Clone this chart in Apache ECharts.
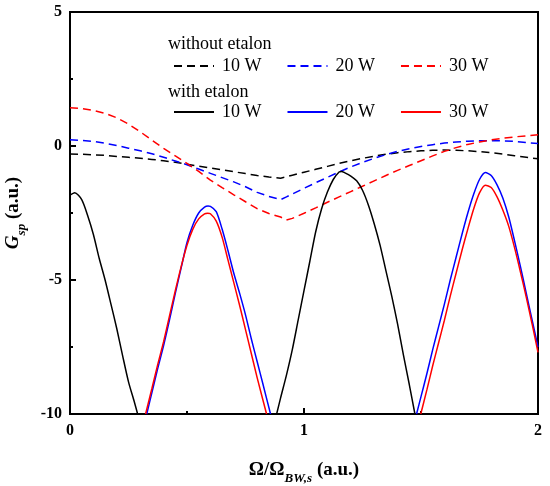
<!DOCTYPE html>
<html>
<head>
<meta charset="utf-8">
<script src="https://cdn.jsdelivr.net/npm/echarts@6/dist/echarts.min.js"></script>
<style>
  html, body { margin: 0; padding: 0; background: #fff; }
  #chart { width: 550px; height: 486px; }
</style>
</head>
<body>
<div id="chart"></div>
<script>
// dashed curves (without etalon), shared x grid
const xDash = [0, 0.05, 0.1, 0.15, 0.2, 0.25, 0.3, 0.35, 0.4, 0.45, 0.5, 0.55, 0.6, 0.65, 0.7, 0.75, 0.8, 0.85, 0.9, 0.925,
  0.95, 1.0, 1.05, 1.1, 1.15, 1.2, 1.25, 1.3, 1.35, 1.4, 1.45, 1.5, 1.55, 1.6, 1.65, 1.7, 1.75, 1.8, 1.85, 1.9, 1.95, 2.0];
const without10 = [-0.30, -0.31, -0.33, -0.35, -0.39, -0.42, -0.46, -0.50, -0.55, -0.61, -0.68, -0.75, -0.82, -0.89, -0.96, -1.03, -1.10, -1.16, -1.20, -1.15,
  -1.09, -0.98, -0.87, -0.76, -0.65, -0.55, -0.46, -0.38, -0.31, -0.25, -0.21, -0.18, -0.16, -0.15, -0.16, -0.18, -0.21, -0.25, -0.30, -0.36, -0.42, -0.48];
const without20 = [0.23, 0.21, 0.17, 0.10, 0.02, -0.08, -0.18, -0.29, -0.42, -0.56, -0.70, -0.86, -1.02, -1.18, -1.34, -1.52, -1.73, -1.88, -2.00, -1.90,
  -1.79, -1.58, -1.37, -1.17, -0.97, -0.78, -0.61, -0.46, -0.32, -0.20, -0.10, -0.02, 0.05, 0.11, 0.15, 0.18, 0.20, 0.20, 0.19, 0.17, 0.13, 0.09];
const without30 = [1.43, 1.40, 1.33, 1.22, 1.05, 0.82, 0.53, 0.22, -0.09, -0.37, -0.65, -0.95, -1.27, -1.55, -1.82, -2.08, -2.34, -2.52, -2.65, -2.76,
  -2.70, -2.51, -2.31, -2.10, -1.90, -1.70, -1.50, -1.30, -1.10, -0.91, -0.73, -0.55, -0.37, -0.20, -0.06, 0.06, 0.15, 0.23, 0.29, 0.34, 0.38, 0.42];

// solid curves (with etalon), null = gap below the axis
const with10X = [0, 0.02, 0.05, 0.075, 0.1, 0.125, 0.15, 0.175, 0.2, 0.225, 0.25, 0.275, 0.289, null,
  0.883, 0.9, 0.925, 0.95, 0.975, 1.0, 1.025, 1.05, 1.075, 1.1, 1.125, 1.15, 1.16, 1.175, 1.2, 1.225, 1.25, 1.275,
  1.3, 1.325, 1.35, 1.375, 1.4, 1.425, 1.45, 1.474];
const with10Y = [-1.83, -1.74, -2.0, -2.58, -3.3, -4.2, -5.0, -5.9, -6.82, -7.83, -8.8, -9.55, -10, null,
  -10, -9.4, -8.55, -7.6, -6.5, -5.4, -4.3, -3.2, -2.35, -1.72, -1.25, -0.97, -0.95, -1.0, -1.12, -1.3, -1.65, -2.2,
  -2.9, -3.7, -4.65, -5.6, -6.65, -7.8, -8.9, -10];
const with20X = [0.328, 0.35, 0.375, 0.4, 0.425, 0.45, 0.475, 0.5, 0.525, 0.55, 0.575, 0.59, 0.6, 0.625, 0.65, 0.675,
  0.7, 0.725, 0.75, 0.775, 0.8, 0.825, 0.857, null,
  1.481, 1.5, 1.525, 1.55, 1.575, 1.6, 1.625, 1.65, 1.675, 1.7, 1.725, 1.75, 1.775, 1.8, 1.825, 1.85, 1.875,
  1.9, 1.925, 1.95, 1.975, 2.0];
const with20Y = [-10, -9.2, -8.3, -7.45, -6.5, -5.5, -4.55, -3.6, -2.95, -2.5, -2.28, -2.24, -2.25, -2.45, -3.1, -3.9,
  -4.75, -5.5, -6.3, -7.2, -8.05, -8.9, -10, null,
  -10, -9.35, -8.5, -7.6, -6.75, -5.9, -5.0, -4.15, -3.3, -2.5, -1.8, -1.25, -0.99, -1.1, -1.45, -1.95, -2.65,
  -3.55, -4.5, -5.5, -6.5, -7.5];
const with30X = [0.323, 0.35, 0.375, 0.4, 0.425, 0.45, 0.475, 0.5, 0.525, 0.55, 0.575, 0.588, 0.6, 0.625, 0.65, 0.675,
  0.7, 0.725, 0.75, 0.775, 0.8, 0.84, null,
  1.499, 1.525, 1.55, 1.575, 1.6, 1.625, 1.65, 1.675, 1.7, 1.725, 1.75, 1.775, 1.8, 1.825, 1.85, 1.875,
  1.9, 1.925, 1.95, 1.975, 2.0];
const with30Y = [-10, -9.05, -8.15, -7.3, -6.35, -5.4, -4.5, -3.7, -3.1, -2.72, -2.53, -2.51, -2.53, -2.8, -3.4, -4.25,
  -5.1, -5.95, -6.85, -7.75, -8.65, -10, null,
  -10, -9.1, -8.2, -7.35, -6.5, -5.6, -4.75, -3.9, -3.1, -2.35, -1.75, -1.46, -1.55, -1.9, -2.4, -3.0,
  -3.8, -4.7, -5.65, -6.65, -7.7];

const powerLabels = ['10 W', '20 W', '30 W'];
const xTicks = [0, 1, 2];
const yTicks = [-10, -5, 0, 5];

const serif = 'Liberation Serif';
const pairs = (xs, ys) => xs.map((x, i) => (x === null ? ['-', '-'] : [x, ys[i]]));

const dashNames = ['d10', 'd20', 'd30'];
const solidNames = ['s10', 's20', 's30'];
const colors = ['#000000', '#0000ff', '#ff0000'];
const labelOf = {};
dashNames.forEach((n, i) => { labelOf[n] = powerLabels[i]; });
solidNames.forEach((n, i) => { labelOf[n] = powerLabels[i]; });

const dashData = [without10, without20, without30].map(ys => pairs(xDash, ys));
const solidData = [pairs(with10X, with10Y), pairs(with20X, with20Y), pairs(with30X, with30Y)];

const series = [];
dashData.forEach((d, i) => {
  series.push({
    name: dashNames[i], type: 'line', data: d, symbol: 'none', showSymbol: false,
    lineStyle: { color: colors[i], width: 1.5, type: [8, 5] }, itemStyle: { color: colors[i] },
    clip: true, animation: false
  });
});
solidData.forEach((d, i) => {
  series.push({
    name: solidNames[i], type: 'line', data: d, symbol: 'none', showSymbol: false, smooth: 0.25,
    lineStyle: { color: colors[i], width: 1.5, type: 'solid' }, itemStyle: { color: colors[i] },
    clip: true, animation: false
  });
});

const legendCommon = {
  orient: 'horizontal', left: 168, itemWidth: 40, itemHeight: 14, itemGap: 25,
  selectedMode: false,
  itemStyle: { opacity: 0 },
  textStyle: { fontFamily: serif, fontSize: 18, color: '#000', padding: [0, 0, 0, 3] },
  formatter: n => labelOf[n]
};

const titleRich = {
  g: { fontFamily: serif, fontWeight: 'bold', fontStyle: 'italic', fontSize: 19, fill: '#000', lineHeight: 22, verticalAlign: 'top' },
  a: { fontFamily: serif, fontWeight: 'bold', fontSize: 19, fill: '#000', lineHeight: 22, verticalAlign: 'top' },
  sub: { fontFamily: serif, fontWeight: 'bold', fontStyle: 'italic', fontSize: 13, fill: '#000', lineHeight: 36 }
};

const chart = echarts.init(document.getElementById('chart'));
chart.setOption({
  animation: false,
  backgroundColor: '#fff',
  grid: {
    left: 70, right: 12, top: 12, bottom: 72, outerBoundsMode: 'none',
    show: true, borderColor: '#000', borderWidth: 2
  },
  legend: [
    Object.assign({}, legendCommon, { top: 52, data: dashNames }),
    Object.assign({}, legendCommon, { top: 98, data: solidNames })
  ],
  graphic: [
    { type: 'text', left: 168, top: 35, style: { text: 'without etalon', font: '18px "Liberation Serif"', fill: '#000' } },
    { type: 'text', left: 168, top: 83, style: { text: 'with etalon', font: '18px "Liberation Serif"', fill: '#000' } },
    {
      type: 'text', x: 22, y: 213, rotation: Math.PI / 2,
      style: { text: '{g|G}{sub|sp}{a| (a.u.)}', rich: titleRich, align: 'center', verticalAlign: 'middle' }
    }
  ],
  xAxis: {
    type: 'value', min: xTicks[0], max: xTicks[xTicks.length - 1], interval: xTicks[1] - xTicks[0],
    axisLine: { onZero: false, lineStyle: { color: '#000', width: 2 } },
    axisTick: { inside: true, length: 6, lineStyle: { color: '#000', width: 2 } },
    minorTick: { show: true, splitNumber: 2, length: 3, lineStyle: { color: '#000', width: 2 } },
    splitLine: { show: false },
    axisLabel: { fontFamily: serif, fontWeight: 'bold', fontSize: 16, color: '#000', margin: 9 },
    name: '{a|Ω/Ω}{sub|BW,s}{a| (a.u.)}',
    nameLocation: 'middle', nameGap: 47,
    nameTextStyle: {
      rich: {
        a: { fontFamily: serif, fontWeight: 'bold', fontSize: 19, color: '#000', lineHeight: 22, verticalAlign: 'top' },
        sub: { fontFamily: serif, fontWeight: 'bold', fontStyle: 'italic', fontSize: 13, color: '#000', lineHeight: 36 }
      }
    }
  },
  yAxis: {
    type: 'value', min: yTicks[0], max: yTicks[yTicks.length - 1], interval: yTicks[1] - yTicks[0],
    axisLine: { onZero: false, lineStyle: { color: '#000', width: 2 } },
    axisTick: { inside: true, length: 6, lineStyle: { color: '#000', width: 2 } },
    minorTick: { show: true, splitNumber: 2, length: 3, lineStyle: { color: '#000', width: 2 } },
    splitLine: { show: false },
    axisLabel: { fontFamily: serif, fontWeight: 'bold', fontSize: 16, color: '#000', margin: 8 }
  },
  series: series
});
</script>
</body>
</html>
